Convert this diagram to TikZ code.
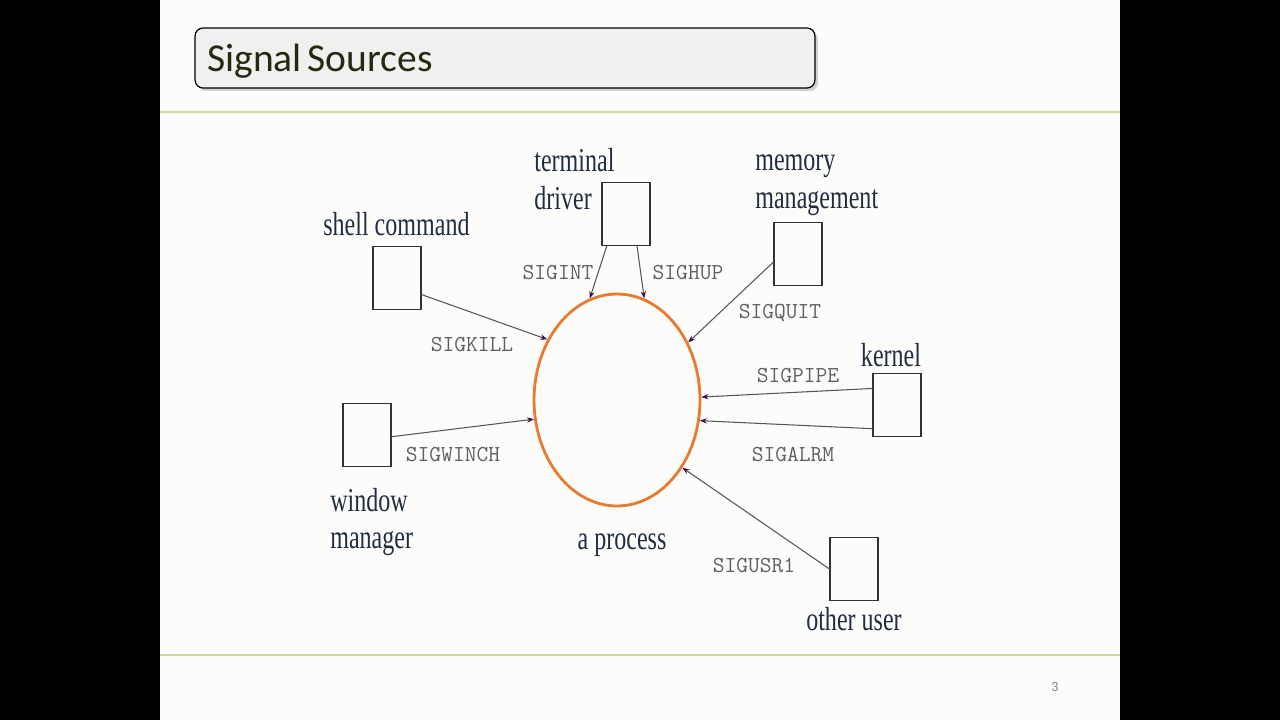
\documentclass[tikz,border=0pt]{standalone}
\usepackage{fontspec}
\setsansfont{Carlito}
\newfontfamily\condserif[FakeStretch=0.72]{Liberation Serif}
\usetikzlibrary{positioning,shapes.geometric,arrows.meta,shadows}
\definecolor{slidebg}{RGB}{252,253,250}
\definecolor{rulegreen}{RGB}{205,215,165}
\definecolor{titlegray}{RGB}{240,241,239}
\definecolor{titletext}{RGB}{38,40,18}
\definecolor{labelblue}{RGB}{35,45,65}
\definecolor{siggray}{RGB}{95,95,100}
\definecolor{linegray}{RGB}{85,85,95}
\definecolor{tipviolet}{RGB}{60,10,70}
\definecolor{procorange}{RGB}{232,122,50}

\begin{document}
\begin{tikzpicture}[
  x=0.02cm, y=-0.02cm,
  srcbox/.style={draw=black!80,line width=0.6pt,minimum width=0.96cm,minimum height=1.26cm,inner sep=0pt},
  lbl/.style={text=labelblue,font=\condserif\fontsize{19}{21.5}\selectfont,align=left,inner sep=0pt},
  sig/.style={text=siggray,font=\ttfamily\fontsize{13}{13}\selectfont,inner sep=0pt},
  sigline/.style={draw=linegray,line width=0.6pt,-{Stealth[length=4pt,width=3pt,color=tipviolet]}}
]
% slide
\fill[black] (0,0) rectangle (1280,720);
\fill[slidebg] (160,0) rectangle (1120,720);
\draw[rulegreen,line width=1pt] (160,112) -- (1120,112);
\draw[rulegreen,line width=1pt] (160,655) -- (1120,655);
\node[draw=black,line width=0.7pt,rounded corners=0.16cm,fill=titlegray,drop shadow={opacity=0.35,shadow xshift=0.06cm,shadow yshift=-0.06cm},
  minimum width=12.4cm,minimum height=1.2cm] (title) at (505,58) {};
\node[anchor=west,inner sep=0pt,text=titletext,font=\sffamily\fontsize{22.5}{24}\selectfont] (titletxt) at (207,61) {Signal\hspace{0.15em}Sources};
\node[text=gray,font=\sffamily\fontsize{8}{8}\selectfont] (pg) at (1055,687) {3};

% the process
\node[ellipse,draw=procorange,line width=1.6pt,minimum width=3.32cm,minimum height=4.24cm] (proc) at (617,400) {};
\node[lbl] (proclbl) at (622,545) {a process};

% sources
\node[srcbox] (td) at (626,214) {};
\node[srcbox] (mm) at (798,254) {};
\node[srcbox] (sc) at (397,278) {};
\node[srcbox] (wm) at (367,435) {};
\node[srcbox] (kn) at (897,405) {};
\node[srcbox] (ou) at (854,569) {};

\node[lbl,anchor=west] (tdlbl) at (534,179) {terminal\\driver};
\node[lbl,anchor=west] (mmlbl) at (755,185) {memory\\management};
\node[lbl,anchor=west] (sclbl) at (323,224) {shell command};
\node[lbl,anchor=west] (wmlbl) at (330,522) {window\\manager};
\node[lbl,above=0.12cm of kn,xshift=-0.12cm] (knlbl) {kernel};
\node[lbl,below=0.12cm of ou] (oulbl) {other user};

% signals
\path (td.-121) edge[sigline] (proc.105);
\path (td.-71) edge[sigline] (proc.75);
\path (mm.198) edge[sigline] (proc.39);
\path (sc.-34) edge[sigline] (proc.139);
\path (wm.-4) edge[sigline] (proc.193);
\path (kn.146) edge[sigline] (proc.2);
\path (kn.224) edge[sigline] (proc.-14);
\path (ou.180) edge[sigline] (proc.-46);

\node[sig] (sint) at (558,273) {SIGINT};
\node[sig] (shup) at (688,273) {SIGHUP};
\node[sig] (squit) at (780,313) {SIGQUIT};
\node[sig] (skill) at (472,345) {SIGKILL};
\node[sig] (spipe) at (798,376) {SIGPIPE};
\node[sig] (swinch) at (453,455) {SIGWINCH};
\node[sig] (salrm) at (793,454) {SIGALRM};
\node[sig] (susr) at (754,566) {SIGUSR1};
\end{tikzpicture}
\end{document}
